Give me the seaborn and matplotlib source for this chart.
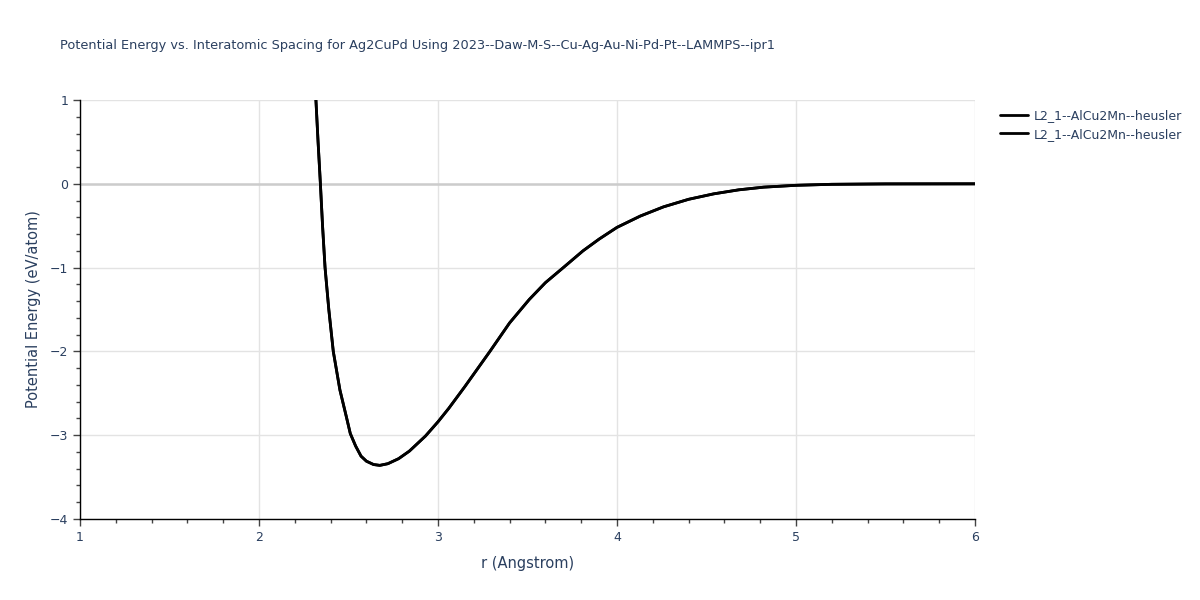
import numpy as np
import pandas as pd
import matplotlib
matplotlib.use("Agg")
import matplotlib.pyplot as plt
from matplotlib.ticker import MultipleLocator
import seaborn as sns

title = "Potential Energy vs. Interatomic Spacing for Ag2CuPd Using 2023--Daw-M-S--Cu-Ag-Au-Ni-Pd-Pt--LAMMPS--ipr1"
series_names = ["L2_1--AlCu2Mn--heusler", "L2_1--AlCu2Mn--heusler"]

r_vals = [2.318, 2.330, 2.343, 2.355, 2.369, 2.39, 2.415, 2.452, 2.488, 2.51,
          2.54, 2.57, 2.60, 2.64, 2.675, 2.72, 2.78, 2.84, 2.93, 3.0,
          3.06, 3.15, 3.29, 3.40, 3.51, 3.60, 3.70, 3.81, 3.90, 4.0,
          4.13, 4.26, 4.40, 4.54, 4.68, 4.82, 5.0, 5.2, 5.5, 6.0]
e_vals = [1.0, 0.5, 0.0, -0.5, -1.0, -1.5, -2.0, -2.46, -2.78, -2.98,
          -3.13, -3.25, -3.31, -3.35, -3.36, -3.34, -3.28, -3.19, -3.01, -2.84,
          -2.68, -2.42, -2.0, -1.66, -1.38, -1.18, -1.0, -0.80, -0.66, -0.52,
          -0.385, -0.275, -0.185, -0.12, -0.072, -0.04, -0.018, -0.006, -0.001, 0.0]

xticks = [1, 2, 3, 4, 5, 6]
yticks = [1, 0, -1, -2, -3, -4]

sns.set_theme(style="white")
plt.rcParams['font.family'] = ['DejaVu Sans']
txt = "#2a3f5f"

fig = plt.figure(figsize=(12, 6), dpi=100)
ax = fig.add_axes([80/1200, 1-519/600, (975-80)/1200, (519-100)/600])

df = pd.DataFrame({"r": r_vals, "E": e_vals})
for name in series_names:
    sns.lineplot(data=df, x="r", y="E", ax=ax, color="black", linewidth=2,
                 label=name, sort=False, estimator=None)

ax.set_xlim(1, 6)
ax.set_ylim(-4, 1)
ax.set_xticks(xticks)
ax.set_yticks(yticks)
ax.set_xticklabels([str(t) for t in xticks])
ax.set_yticklabels([("\u2212" + str(-t)) if t < 0 else str(t) for t in yticks])
ax.xaxis.set_minor_locator(MultipleLocator(0.2))
ax.yaxis.set_minor_locator(MultipleLocator(0.2))

ax.grid(True, which="major", color="#e3e3e3", linewidth=1)
ax.axhline(0, color="#cccccc", linewidth=1.8, zorder=1)
for s in ["top", "right"]:
    ax.spines[s].set_visible(False)
for s in ["left", "bottom"]:
    ax.spines[s].set_color("black")
    ax.spines[s].set_linewidth(1)
ax.tick_params(axis="both", which="major", direction="out", length=5, width=1,
               color="#444444", labelsize=9, labelcolor=txt, bottom=True, left=True)
ax.tick_params(axis="both", which="minor", direction="out", length=3, width=1,
               color="#444444", bottom=True, left=True)

ax.set_xlabel("r (Angstrom)", fontsize=10.5, color=txt, labelpad=9)
ax.set_ylabel("Potential Energy (eV/atom)", fontsize=10.5, color=txt, labelpad=6)

fig.text(60/1200, 1-45/600, title, fontsize=9.25, color=txt, va="center", ha="left")

leg = ax.legend(loc="upper left", bbox_to_anchor=(995/1200, 1-104/600),
                bbox_transform=fig.transFigure, frameon=False, fontsize=9,
                handlelength=2.2, labelspacing=0.45, handletextpad=0.5, borderaxespad=0)
for t in leg.get_texts():
    t.set_color(txt)

fig.savefig("out.png", dpi=100)
